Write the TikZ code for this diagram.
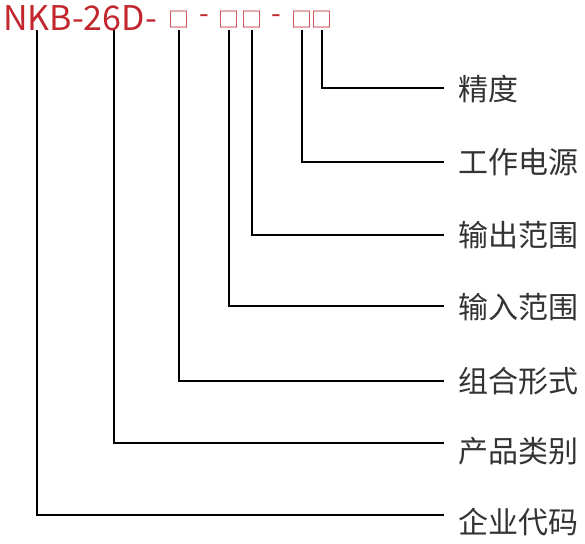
\documentclass[tikz,border=0pt]{standalone}
\usepackage{fontspec}
\setmainfont{Noto Sans CJK SC}
\definecolor{tred}{HTML}{C1272D}
\definecolor{tgray}{HTML}{333333}
\begin{document}
\begin{tikzpicture}[x=1pt,y=-1pt,
  lbl/.style={anchor=west,inner sep=0pt,text=tgray,font=\fontsize{30}{32}\selectfont},
  title/.style={anchor=west,inner sep=0pt,text=tred,font=\fontsize{34}{36}\selectfont},
  bx/.style={inner sep=0pt,text=tred,font=\fontsize{21}{22}\selectfont},
  dsh/.style={inner sep=0pt,text=tred,font=\fontsize{28}{29}\selectfont},
  conn/.style={draw=black,line width=1.1pt}]
\useasboundingbox (0,0) rectangle (585,543);
\node[title] (t) at (3,18) {NKB-26D-};
\node[bx] (b1) at (179,20) {□};
\node[dsh] (d1) at (204,19) {-};
\node[bx] (b2) at (229,20) {□};
\node[bx] (b3) at (252,20) {□};
\node[dsh] (d2) at (276,19) {-};
\node[bx] (b4) at (302,20) {□};
\node[bx] (b5) at (322,20) {□};
\coordinate (cK) at (37,30);
\coordinate (c6) at (114,30);
\coordinate (s1) at (179,30);
\coordinate (s2) at (229,30);
\coordinate (s3) at (252,30);
\coordinate (s4) at (302,30);
\coordinate (s5) at (322,30);
\node[lbl] (l1) at (458,89) {精度};
\node[lbl] (l2) at (458,162) {工作电源};
\node[lbl] (l3) at (458,235) {输出范围};
\node[lbl] (l4) at (458,307) {输入范围};
\node[lbl] (l5) at (458,381) {组合形式};
\node[lbl] (l6) at (458,451) {产品类别};
\node[lbl] (l7) at (458,522) {企业代码};
\coordinate (e1) at (444,88);
\coordinate (e2) at (444,162);
\coordinate (e3) at (444,235);
\coordinate (e4) at (444,306);
\coordinate (e5) at (444,381);
\coordinate (e6) at (444,443);
\coordinate (e7) at (444,515);
\draw[conn] (s5) |- (e1);
\draw[conn] (s4) |- (e2);
\draw[conn] (s3) |- (e3);
\draw[conn] (s2) |- (e4);
\draw[conn] (s1) |- (e5);
\draw[conn] (c6) |- (e6);
\draw[conn] (cK) |- (e7);
\end{tikzpicture}
\end{document}
